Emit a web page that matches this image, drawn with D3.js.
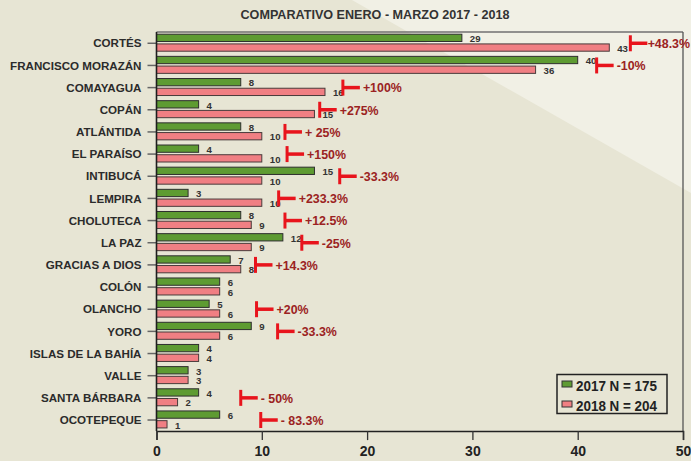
<!DOCTYPE html>
<html>
<head>
<meta charset="utf-8">
<script src="https://cdn.jsdelivr.net/npm/d3@7"></script>
<style>
  html, body { margin: 0; padding: 0; background: #e7e5d4; }
  svg { display: block; font-family: "Liberation Sans", Arial, sans-serif; }
</style>
</head>
<body>
<svg id="chart" width="691" height="461"></svg>
<script>
// ---- data ----
const categories = ["CORTÉS", "FRANCISCO MORAZÁN", "COMAYAGUA", "COPÁN", "ATLÁNTIDA", "EL PARAÍSO",
  "INTIBUCÁ", "LEMPIRA", "CHOLUTECA", "LA PAZ", "GRACIAS A DIOS", "COLÓN", "OLANCHO", "YORO",
  "ISLAS DE LA BAHÍA", "VALLE", "SANTA BÁRBARA", "OCOTEPEQUE"];
const values2017 = [29, 40, 8, 4, 8, 4, 15, 3, 8, 12, 7, 6, 5, 9, 4, 3, 4, 6];
const values2018 = [43, 36, 16, 15, 10, 10, 10, 10, 9, 9, 8, 6, 6, 6, 4, 3, 2, 1];
const changeLabels = ["+48.3%", "-10%", "+100%", "+275%", "+ 25%", "+150%", "-33.3%", "+233.3%",
  "+12.5%", "-25%", "+14.3%", null, "+20%", "-33.3%", null, null, "- 50%", "- 83.3%"];
// where each change marker sits, in axis units
const markerAt = [45, 41.8, 17.7, 15.5, 12.2, 12.4, 17.4, 11.6, 12.2, 13.8, 9.4, null, 9.5, 11.5, null, null, 8.0, 9.9];
const seriesNames = ["2017", "2018"];
const legendLabels = ["2017 N = 175", "2018 N = 204"];
const xTicks = [0, 10, 20, 30, 40, 50];
const title = "COMPARATIVO ENERO - MARZO 2017 - 2018";

(function () {
// ---- layout ----
const W = 691, H = 461;
const mLeft = 156.5, mRight = 683, mTop = 32.2, mBottom = 431.1;
const colors = { "2017": "#5e9b32", "2018": "#f07f83" };

const svg = d3.select("#chart");

// background
svg.append("rect").attr("width", W).attr("height", H).attr("fill", "#e7e5d4");
svg.append("polygon").attr("points", "352,0 691,0 691,193").attr("fill", "#f1f0e5");

const x = d3.scaleLinear().domain([0, 50]).range([mLeft, mRight]);
const y = d3.scaleBand().domain(categories).range([mTop, mBottom]).paddingInner(0).paddingOuter(0);
const sub = d3.scaleBand().domain(seriesNames).range([2, 19]).paddingInner(0.25).paddingOuter(0);

// title
svg.append("text")
  .attr("x", 375).attr("y", 19)
  .attr("text-anchor", "middle")
  .attr("font-size", 12.5).attr("font-weight", "bold").attr("fill", "#333")
  .attr("textLength", 269).attr("lengthAdjust", "spacingAndGlyphs")
  .text(title);

// frame top and right
svg.append("line").attr("x1", mLeft).attr("x2", mRight).attr("y1", 32).attr("y2", 32)
  .attr("stroke", "#707070").attr("stroke-width", 1.6);
svg.append("line").attr("x1", mRight).attr("x2", mRight).attr("y1", 32).attr("y2", mBottom)
  .attr("stroke", "#555").attr("stroke-width", 1.3);

const rows = categories.map((c, i) => ({
  cat: c, v17: values2017[i], v18: values2018[i], change: changeLabels[i], mk: markerAt[i]
}));

const g = svg.append("g");
rows.forEach(r => {
  const y0 = y(r.cat);
  const cy = y0 + y.bandwidth() / 2;
  g.append("line").attr("x1", mLeft - 9).attr("x2", mLeft).attr("y1", cy).attr("y2", cy)
    .attr("stroke", "#666").attr("stroke-width", 1.5);
  g.append("text").attr("x", 141.5).attr("y", cy + 4.2)
    .attr("text-anchor", "end").attr("font-size", 11.6).attr("font-weight", "bold")
    .attr("fill", "#2b2b2b").text(r.cat);

  [["2017", r.v17], ["2018", r.v18]].forEach(([s, v]) => {
    const by = y0 + sub(s);
    g.append("rect").attr("x", x(0)).attr("y", by)
      .attr("width", x(v) - x(0)).attr("height", sub.bandwidth())
      .attr("fill", colors[s]).attr("stroke", s === "2017" ? "#2e2e2e" : "#4a3b3b").attr("stroke-width", 1);
    g.append("text").attr("x", x(v) + 8).attr("y", by + sub.bandwidth() + 0.6)
      .attr("font-size", 9.6).attr("font-weight", "bold").attr("fill", "#333").text(v);
  });

  if (r.change) {
    const mx = x(r.mk);
    g.append("line").attr("x1", mx).attr("x2", mx).attr("y1", cy - 8).attr("y2", cy + 8)
      .attr("stroke", "#e8141c").attr("stroke-width", 3);
    g.append("line").attr("x1", mx).attr("x2", mx + 17).attr("y1", cy).attr("y2", cy)
      .attr("stroke", "#e8141c").attr("stroke-width", 3.5);
    const t = g.append("text").attr("x", mx + 20).attr("y", cy + 4.8)
      .attr("font-size", 12.4).attr("font-weight", "bold").attr("fill", "#9b2222").text(r.change);
    const tw = t.node().getComputedTextLength();
    if (mx + 20 + tw > W - 1) t.attr("x", W - 1 - tw);
  }
});

// x axis
const xAxis = d3.axisBottom(x).tickValues(xTicks).tickSize(9).tickPadding(6).tickFormat(d3.format("d"));
const ax = svg.append("g").attr("transform", `translate(0,${mBottom})`).call(xAxis);
ax.select(".domain").attr("stroke", "#222").attr("stroke-width", 1.5);
ax.selectAll(".tick line").attr("stroke", "#333").attr("stroke-width", 1.3);
ax.selectAll(".tick text").attr("font-size", 14).attr("font-weight", "bold").attr("fill", "#222")
  .attr("font-family", "Liberation Sans, Arial, sans-serif");

// left axis line
svg.append("line").attr("x1", mLeft).attr("x2", mLeft).attr("y1", 32).attr("y2", mBottom)
  .attr("stroke", "#1e1e1e").attr("stroke-width", 1.6);

// legend
const lg = svg.append("g");
lg.append("rect").attr("x", 557).attr("y", 374.5).attr("width", 110).attr("height", 39)
  .attr("fill", "none").attr("stroke", "#222").attr("stroke-width", 1.5);
seriesNames.forEach((s, i) => {
  const ly = 381 + i * 20;
  lg.append("rect").attr("x", 562).attr("y", ly).attr("width", 10).attr("height", 6)
    .attr("fill", colors[s]).attr("stroke", "#333").attr("stroke-width", 1);
  lg.append("text").attr("x", 576).attr("y", ly + 9.5)
    .attr("font-size", 13.8).attr("font-weight", "bold").attr("fill", "#222")
    .attr("textLength", 81).attr("lengthAdjust", "spacingAndGlyphs")
    .text(legendLabels[i]);
});
})();
</script>
</body>
</html>
